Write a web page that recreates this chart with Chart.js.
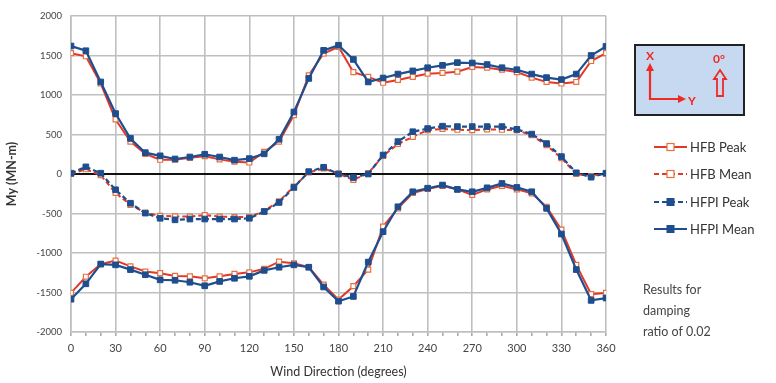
<!DOCTYPE html>
<html>
<head>
<meta charset="utf-8">
<script src="https://cdn.jsdelivr.net/npm/chart.js@4"></script>
<style>
  html, body { margin: 0; padding: 0; background: #fff; }
  #wrap { position: relative; width: 776px; height: 383px; }
</style>
</head>
<body>
<div id="wrap"><canvas id="myChart" width="776" height="383"></canvas></div>
<script>
// wind direction, degrees
var angles = [0, 10, 20, 30, 40, 50, 60, 70, 80, 90, 100, 110, 120, 130, 140, 150, 160, 170, 180,
              190, 200, 210, 220, 230, 240, 250, 260, 270, 280, 290, 300, 310, 320, 330, 340, 350, 360];

// HFB (red)
var hfbUpper = [1530, 1490, 1145, 690, 410, 255, 180, 180, 205, 225, 185, 155, 145, 280, 410, 745, 1250, 1525, 1610,
                1290, 1230, 1155, 1190, 1230, 1270, 1280, 1295, 1355, 1345, 1320, 1290, 1220, 1165, 1145, 1165, 1430, 1530];
var hfbMean = [0, 60, -15, -240, -390, -490, -530, -535, -540, -520, -540, -545, -545, -470, -345, -160, 20, 70, 5,
               -75, 10, 230, 380, 470, 555, 570, 560, 555, 565, 560, 555, 490, 365, 200, 0, -25, 5];
var hfbLower = [-1505, -1300, -1140, -1095, -1170, -1235, -1255, -1290, -1295, -1320, -1295, -1265, -1245, -1200, -1110, -1130, -1180, -1400, -1590,
                -1420, -1210, -665, -435, -240, -190, -150, -195, -265, -195, -150, -195, -245, -415, -705, -1150, -1520, -1505];

// HFPI (blue)
var hfpiUpper = [1620, 1560, 1165, 765, 450, 270, 230, 190, 215, 250, 215, 175, 195, 255, 440, 785, 1210, 1565, 1630,
                 1450, 1165, 1215, 1265, 1305, 1345, 1375, 1410, 1405, 1385, 1345, 1320, 1265, 1220, 1195, 1265, 1500, 1615];
var hfpiMean = [10, 90, 10, -200, -370, -495, -560, -580, -570, -570, -570, -570, -560, -475, -360, -170, 30, 85, 0,
                -45, 0, 240, 410, 535, 575, 605, 600, 600, 600, 600, 565, 505, 385, 220, 15, -40, 10];
var hfpiLower = [-1585, -1390, -1140, -1150, -1210, -1275, -1340, -1345, -1370, -1415, -1360, -1320, -1295, -1220, -1180, -1150, -1180, -1430, -1610,
                 -1550, -1115, -730, -415, -225, -180, -140, -195, -225, -175, -120, -170, -225, -435, -760, -1210, -1600, -1570];

var legendNames = ['HFB Peak', 'HFB Mean', 'HFPI Peak', 'HFPI Mean'];
var noteLines = ['Results for', 'damping', 'ratio of 0.02'];

var RED = '#e2382a', RED_MK = '#e8703e', BLUE = '#1f4e8e';
var FONT = 'Lato, "Open Sans", sans-serif';

function pts(ys) {
    return angles.map(function(a, i) { return { x: a, y: ys[i] }; });
}

function redSet(label, ys, dashed) {
    return {
        label: label, data: pts(ys), order: 2,
        borderColor: RED, borderWidth: 2, borderDash: dashed ? [5, 3] : [],
        pointStyle: 'rect', pointRadius: 3.5, pointBackgroundColor: '#fff',
        pointBorderColor: RED_MK, pointBorderWidth: 1.2
    };
}
function blueSet(label, ys, dashed) {
    return {
        label: label, data: pts(ys), order: 1,
        borderColor: BLUE, borderWidth: 2.2, borderDash: dashed ? [5, 3] : [],
        pointStyle: 'rect', pointRadius: 4, pointBackgroundColor: BLUE,
        pointBorderColor: BLUE, pointBorderWidth: 1
    };
}

// legend, axis sketch box and note are drawn after the chart
var extras = {
    id: 'extras',
    afterDraw: function(chart) {
        var ctx = chart.ctx;
        ctx.save();

        // orientation box
        ctx.fillStyle = '#c6d9f0';
        ctx.fillRect(635, 45, 109, 70);
        ctx.strokeStyle = '#222';
        ctx.lineWidth = 2;
        ctx.strokeRect(635, 45, 109, 70);

        ctx.strokeStyle = '#ee2a24';
        ctx.fillStyle = '#ee2a24';
        ctx.lineWidth = 2.2;
        ctx.beginPath();
        ctx.moveTo(650, 70); ctx.lineTo(650, 99); ctx.lineTo(679, 99);
        ctx.stroke();
        ctx.beginPath(); ctx.moveTo(650, 63); ctx.lineTo(646, 71); ctx.lineTo(654, 71); ctx.closePath(); ctx.fill();
        ctx.beginPath(); ctx.moveTo(686, 99); ctx.lineTo(678, 95); ctx.lineTo(678, 103); ctx.closePath(); ctx.fill();
        ctx.font = 'bold 12px ' + FONT;
        ctx.textBaseline = 'middle';
        ctx.textAlign = 'center';
        ctx.fillText('X', 650, 56);
        ctx.fillText('Y', 692, 101);
        ctx.fillText('0°', 719, 59);
        // outlined up arrow
        ctx.lineWidth = 1.8;
        ctx.beginPath();
        ctx.moveTo(720, 70); ctx.lineTo(726, 79); ctx.lineTo(723, 79); ctx.lineTo(723, 96);
        ctx.lineTo(717, 96); ctx.lineTo(717, 79); ctx.lineTo(714, 79); ctx.closePath();
        ctx.stroke();

        // legend
        var sets = chart.data.datasets;
        var pick = [0, 2, 3, 4];
        var ys = [147, 174, 202, 229];
        pick.forEach(function(di, k) {
            var ds = sets[di], y = ys[k];
            ctx.strokeStyle = ds.borderColor;
            ctx.lineWidth = ds.borderWidth;
            ctx.setLineDash(ds.borderDash);
            ctx.beginPath(); ctx.moveTo(654, y); ctx.lineTo(687, y); ctx.stroke();
            ctx.setLineDash([]);
            ctx.fillStyle = ds.pointBackgroundColor;
            ctx.fillRect(667, y - 3.5, 7, 7);
            ctx.strokeStyle = ds.pointBorderColor;
            ctx.lineWidth = ds.pointBorderWidth;
            ctx.strokeRect(667, y - 3.5, 7, 7);
            ctx.fillStyle = '#333';
            ctx.font = '13px ' + FONT;
            ctx.textAlign = 'left';
            ctx.fillText(legendNames[k], 690, y + 1);
        });

        // note
        ctx.fillStyle = '#444';
        ctx.font = '12.5px ' + FONT;
        ctx.textAlign = 'left';
        noteLines.forEach(function(t, i) { ctx.fillText(t, 643, 290 + i * 21); });

        ctx.restore();
    }
};

var ctx = document.getElementById('myChart').getContext('2d');
new Chart(ctx, {
    type: 'line',
    data: {
        datasets: [
            redSet('HFB Peak', hfbUpper, false),
            redSet('HFB Peak', hfbLower, false),
            redSet('HFB Mean', hfbMean, true),
            blueSet('HFPI Peak', hfpiMean, true),
            blueSet('HFPI Mean', hfpiUpper, false),
            blueSet('HFPI Mean', hfpiLower, false)
        ]
    },
    options: {
        responsive: false,
        animation: false,
        layout: { padding: { left: 0, top: 16, right: 170, bottom: 0 } },
        plugins: { legend: { display: false }, tooltip: { enabled: false } },
        scales: {
            x: {
                type: 'linear', min: 0, max: 360,
                afterFit: function(s) { s.height = 51; },
                ticks: {
                    stepSize: 10, autoSkip: false, maxRotation: 0,
                    color: '#444', font: { family: FONT, size: 11 }, padding: 6,
                    callback: function(v) { return v % 30 === 0 ? String(v) : ''; }
                },
                grid: {
                    color: function(c) { return c.tick && c.tick.value % 30 === 0 ? '#bfbfbf' : 'rgba(0,0,0,0)'; },
                    tickColor: '#aaa', tickLength: 4, lineWidth: 1.6
                },
                border: { color: '#bfbfbf', width: 1.6 },
                title: {
                    display: true, text: 'Wind Direction (degrees)',
                    color: '#333', font: { family: FONT, size: 12.5 }, padding: { top: 2 }
                }
            },
            y: {
                min: -2000, max: 2000,
                afterFit: function(s) { s.width = 71; },
                ticks: {
                    stepSize: 500, color: '#444', font: { family: FONT, size: 9.5 }, padding: 9,
                    callback: function(v) { return String(v); }
                },
                grid: {
                    color: function(c) { return c.tick && c.tick.value === 0 ? '#111' : '#bfbfbf'; },
                    lineWidth: function(c) { return c.tick && c.tick.value === 0 ? 2 : 1.6; },
                    drawTicks: false
                },
                border: { color: '#bfbfbf', width: 1.6 },
                title: {
                    display: true, text: 'My (MN-m)',
                    color: '#333', font: { family: FONT, size: 12.5, weight: 'bold' }, padding: { bottom: 4 }
                }
            }
        }
    },
    plugins: [extras]
});
</script>
</body>
</html>
